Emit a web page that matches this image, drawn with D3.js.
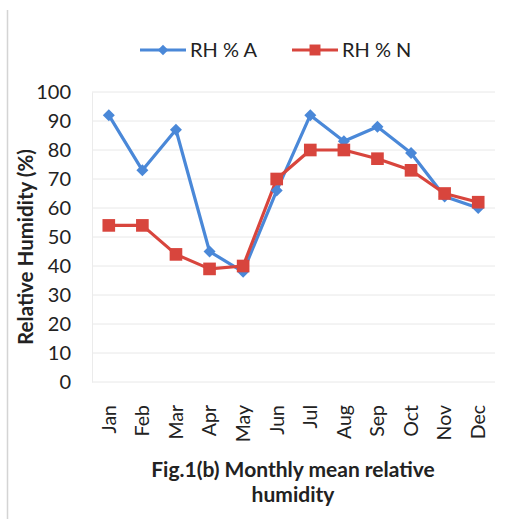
<!DOCTYPE html>
<html>
<head>
<meta charset="utf-8">
<script src="https://cdn.jsdelivr.net/npm/d3@7"></script>
<style>
  html, body { margin: 0; padding: 0; background: #fff; }
  svg { display: block; font-family: Lato, "Open Sans", sans-serif; }
</style>
</head>
<body>
<svg id="chart" width="507" height="519"></svg>
<script>
// Monthly mean relative humidity, two series
const months = ["Jan", "Feb", "Mar", "Apr", "May", "Jun", "Jul", "Aug", "Sep", "Oct", "Nov", "Dec"];
const rhA = [92, 73, 87, 45, 38, 66, 92, 83, 88, 79, 64, 60];
const rhN = [54, 54, 44, 39, 40, 70, 80, 80, 77, 73, 65, 62];
const yTicks = [0, 10, 20, 30, 40, 50, 60, 70, 80, 90, 100];
const seriesNames = ["RH % A", "RH % N"];

const svg = d3.select("#chart");
const margin = { left: 92, right: 12, top: 92, bottom: 137 };
const W = 507, H = 519;
const font = "Lato, 'Open Sans', sans-serif";

const x = d3.scaleBand().domain(months).range([margin.left, W - margin.right]);
const y = d3.scaleLinear().domain([0, 100]).range([H - margin.bottom, margin.top]);

// Outer frame edge on the left
svg.append("line")
  .attr("x1", 7.5).attr("x2", 7.5).attr("y1", 10).attr("y2", H)
  .attr("stroke", "#d4d4d4").attr("stroke-width", 1.5);

// Horizontal gridlines
svg.append("g").selectAll("line").data(yTicks).join("line")
  .attr("x1", margin.left).attr("x2", W - margin.right)
  .attr("y1", d => y(d)).attr("y2", d => y(d))
  .attr("stroke", "#e8e8e8").attr("stroke-width", 1);

// Y axis
const yAxis = svg.append("g")
  .attr("transform", `translate(${margin.left},0)`)
  .call(d3.axisLeft(y).tickValues(yTicks).tickSize(0).tickPadding(21));
yAxis.select(".domain").attr("stroke", "#ebebeb");
yAxis.selectAll("text").attr("font-size", 20).attr("fill", "#222")
  .attr("font-family", font);

// X axis labels, rotated
const xAxis = svg.append("g")
  .attr("transform", `translate(0,${H - margin.bottom})`)
  .call(d3.axisBottom(x).tickSize(0).tickPadding(0));
xAxis.select(".domain").remove();
xAxis.selectAll("text")
  .attr("font-size", 19.5).attr("fill", "#222")
  .attr("font-family", font)
  .attr("text-anchor", "end")
  .attr("y", 0)
  .attr("dy", "0.35em")
  .attr("transform", "translate(0,23) rotate(-90)");

// Y axis title
svg.append("text")
  .attr("transform", `translate(33,${y(50) + 10}) rotate(-90)`)
  .attr("text-anchor", "middle")
  .attr("font-size", 20.5).attr("font-weight", "bold").attr("fill", "#222")
  .attr("font-family", font)
  .text("Relative Humidity (%)");

// Caption
const cap = svg.append("text")
  .attr("text-anchor", "middle")
  .attr("font-size", 21).attr("font-weight", "bold").attr("fill", "#222")
  .attr("font-family", font);
cap.append("tspan").attr("x", 293).attr("y", 477).text("Fig.1(b) Monthly mean relative");
cap.append("tspan").attr("x", 293).attr("y", 502).text("humidity");

const blue = "#4a88d8";
const red = "#d8453d";
const cx = d => x(d) + x.bandwidth() / 2;

const line = d3.line().x((d, i) => cx(months[i])).y(d => y(d));

// Series A: line + diamonds
svg.append("path").datum(rhA)
  .attr("d", line).attr("fill", "none")
  .attr("stroke", blue).attr("stroke-width", 3.2).attr("stroke-linejoin", "round");

// Series N: line + squares
svg.append("path").datum(rhN)
  .attr("d", line).attr("fill", "none")
  .attr("stroke", red).attr("stroke-width", 3.2).attr("stroke-linejoin", "round");

svg.append("g").selectAll("path").data(rhA).join("path")
  .attr("transform", (d, i) => `translate(${cx(months[i])},${y(d)}) rotate(45)`)
  .attr("d", d3.symbol().type(d3.symbolSquare).size(72))
  .attr("fill", blue);

svg.append("g").selectAll("path").data(rhN).join("path")
  .attr("transform", (d, i) => `translate(${cx(months[i])},${y(d)})`)
  .attr("d", d3.symbol().type(d3.symbolSquare).size(160))
  .attr("fill", red);

// Legend
const legend = svg.append("g");
const legendItems = [
  { name: seriesNames[0], color: blue, x0: 140, shape: "diamond" },
  { name: seriesNames[1], color: red, x0: 292, shape: "square" }
];
legendItems.forEach(it => {
  const g = legend.append("g");
  g.append("line").attr("x1", it.x0).attr("x2", it.x0 + 46)
    .attr("y1", 50).attr("y2", 50).attr("stroke", it.color).attr("stroke-width", 3);
  if (it.shape === "diamond") {
    g.append("path").attr("transform", `translate(${it.x0 + 23},50) rotate(45)`)
      .attr("d", d3.symbol().type(d3.symbolSquare).size(55)).attr("fill", it.color);
  } else {
    g.append("path").attr("transform", `translate(${it.x0 + 23},50)`)
      .attr("d", d3.symbol().type(d3.symbolSquare).size(120)).attr("fill", it.color);
  }
  g.append("text").attr("x", it.x0 + 50).attr("y", 57)
    .attr("font-size", 20).attr("fill", "#222").attr("font-family", font)
    .text(it.name);
});
</script>
</body>
</html>
